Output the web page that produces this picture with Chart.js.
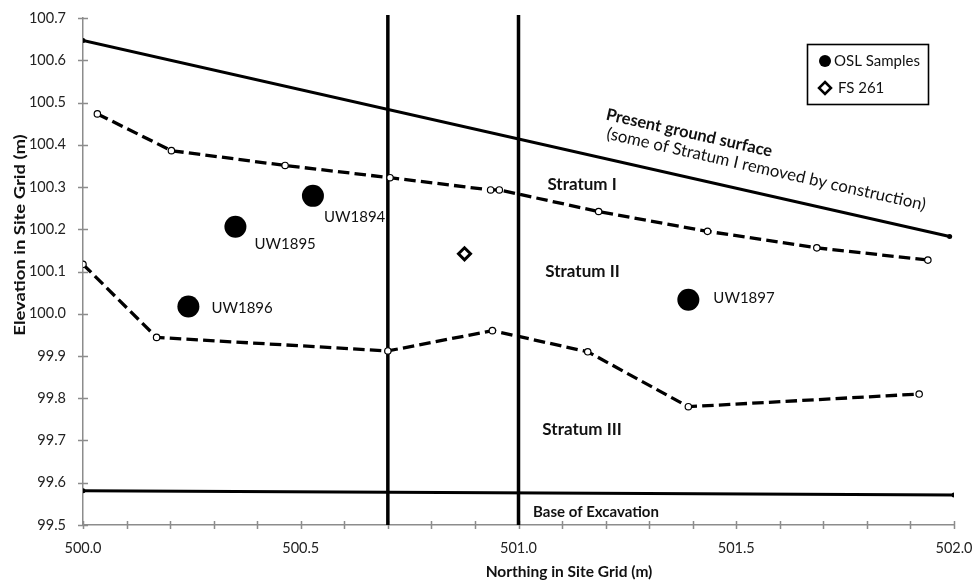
<!DOCTYPE html>
<html>
<head>
<meta charset="utf-8">
<script src="https://cdn.jsdelivr.net/npm/chart.js@4/dist/chart.umd.min.js"></script>
<style>
  html, body { margin: 0; padding: 0; background: #fff; }
  #wrap { width: 975px; height: 580px; }
</style>
</head>
<body>
<div id="wrap"><canvas id="c" width="975" height="580"></canvas></div>
<script>
// Present ground surface (solid line)
const groundX = [500.0, 501.99];
const groundY = [100.647, 100.183];
// Base of excavation (solid line)
const baseX = [500.0, 502.0];
const baseY = [99.581, 99.571];
// Stratum I / Stratum II boundary (dashed)
const boundary12X = [500.033, 500.203, 500.464, 500.705, 500.936, 500.956, 501.184, 501.434, 501.685, 501.94];
const boundary12Y = [100.473, 100.386, 100.351, 100.322, 100.293, 100.293, 100.242, 100.195, 100.156, 100.127];
// Stratum II / Stratum III boundary (dashed)
const boundary23X = [500.0, 500.169, 500.70, 500.94, 501.159, 501.39, 501.92];
const boundary23Y = [100.117, 99.944, 99.912, 99.960, 99.910, 99.780, 99.810];
// OSL samples
const sampleNames = ['UW1894', 'UW1895', 'UW1896', 'UW1897'];
const sampleX = [500.528, 500.35, 500.242, 501.39];
const sampleY = [100.279, 100.206, 100.017, 100.033];
// FS 261
const fsX = [500.876];
const fsY = [100.142];
// Unit walls (vertical lines)
const wallX = [500.7, 501.0];
const wallBottom = 99.5;
const wallTop = 100.707;
// Axis tick labels
const xTickLabels = ['500.0', '500.5', '501.0', '501.5', '502.0'];
const yTickLabels = ['99.5', '99.6', '99.7', '99.8', '99.9', '100.0', '100.1', '100.2', '100.3', '100.4', '100.5', '100.6', '100.7'];

const FONT = 'Lato, "Open Sans", sans-serif';
const AXIS_GREY = '#8c8c8c';
const INK = '#111';

const pts = (xs, ys) => xs.map((x, i) => ({ x: x, y: ys[i] }));

// Text labels placed in data units
const areaLabels = [
  { text: 'Stratum I', x: 501.146, y: 100.307, bold: true, size: 17 },
  { text: 'Stratum II', x: 501.147, y: 100.100, bold: true, size: 17 },
  { text: 'Stratum III', x: 501.146, y: 99.727, bold: true, size: 17 },
  { text: 'Base of Excavation', x: 501.178, y: 99.531, bold: true, size: 15 },
  { text: 'Present ground surface', x: 501.392, y: 100.428, bold: true, size: 16.5, angle: 12.7 },
  { text: '(some of Stratum I removed by construction)', x: 501.569, y: 100.342, bold: false, size: 16.8, angle: 12.7 }
];
// Offset of each sample label from its marker (pixels): left edge, vertical centre
const sampleLabelOffset = [[11, 21], [19, 17], [23, 2], [25, -2]];

const commonLine = { showLine: true, borderColor: '#000', backgroundColor: '#000' };
const dashedStyle = {
  borderWidth: 3.3, borderDash: [11.5, 5.2],
  pointRadius: 3.2, pointBackgroundColor: '#fff', pointBorderColor: '#000', pointBorderWidth: 1.2
};

const datasets = [
  {
    label: 'OSL Samples', data: pts(sampleX, sampleY), showLine: false,
    pointRadius: 11, pointHoverRadius: 11, pointBackgroundColor: '#000', pointBorderColor: '#000', pointBorderWidth: 0
  },
  {
    label: 'FS 261', data: pts(fsX, fsY), showLine: false, pointStyle: 'rectRot',
    pointRadius: 6, pointHoverRadius: 6, pointBackgroundColor: '#fff', pointBorderColor: '#000', pointBorderWidth: 3
  },
  Object.assign({}, commonLine, dashedStyle, { label: 'Stratum I/II', data: pts(boundary12X, boundary12Y) }),
  Object.assign({}, commonLine, dashedStyle, { label: 'Stratum II/III', data: pts(boundary23X, boundary23Y) }),
  Object.assign({}, commonLine, {
    label: 'Present ground surface', data: pts(groundX, groundY), borderWidth: 3,
    pointRadius: 2.5, pointBackgroundColor: '#000', pointBorderWidth: 0
  }),
  Object.assign({}, commonLine, {
    label: 'Base of Excavation', data: pts(baseX, baseY), borderWidth: 3,
    pointRadius: 2.5, pointBackgroundColor: '#000', pointBorderWidth: 0
  })
].concat(wallX.map(x => Object.assign({}, commonLine, {
  label: 'Wall ' + x, data: [{ x: x, y: wallBottom }, { x: x, y: wallTop }],
  borderWidth: 3.5, pointRadius: 0, clip: false
})));

function drawText(ctx, text, x, y, opts) {
  ctx.save();
  ctx.translate(x, y);
  if (opts.angle) ctx.rotate(opts.angle * Math.PI / 180);
  if (opts.sx || opts.sy) ctx.scale(opts.sx || 1, opts.sy || 1);
  ctx.font = (opts.bold ? 'bold ' : '') + opts.size + 'px ' + FONT;
  ctx.fillStyle = opts.color || INK;
  ctx.textAlign = opts.align || 'center';
  ctx.textBaseline = 'middle';
  ctx.fillText(text, 0, 0);
  ctx.restore();
}

// Tick marks crossing both axes
const crossTicks = {
  id: 'crossTicks',
  beforeDatasetsDraw(chart) {
    const ctx = chart.ctx, xs = chart.scales.x, ys = chart.scales.y, a = chart.chartArea;
    ctx.save();
    ctx.strokeStyle = AXIS_GREY;
    ctx.lineWidth = 1.5;
    ctx.beginPath();
    const nx = Math.round((xs.max - xs.min) / 0.1);
    for (let i = 0; i <= nx; i++) {
      const px = Math.round(xs.getPixelForValue(xs.min + i * 0.1)) + 0.5;
      ctx.moveTo(px, a.bottom - 4);
      ctx.lineTo(px, a.bottom + 4);
    }
    yTickLabels.forEach(l => {
      const py = Math.round(ys.getPixelForValue(parseFloat(l))) + 0.5;
      ctx.moveTo(a.left - 5, py);
      ctx.lineTo(a.left + 5, py);
    });
    ctx.stroke();
    ctx.restore();
  }
};

// Annotations, sample names, axis titles and legend
const annotations = {
  id: 'annotations',
  afterDatasetsDraw(chart) {
    const ctx = chart.ctx, xs = chart.scales.x, ys = chart.scales.y, a = chart.chartArea;
    areaLabels.forEach(l => {
      drawText(ctx, l.text, xs.getPixelForValue(l.x), ys.getPixelForValue(l.y),
        { size: l.size, bold: l.bold, angle: l.angle });
    });
    sampleNames.forEach((n, i) => {
      const px = xs.getPixelForValue(sampleX[i]) + sampleLabelOffset[i][0];
      const py = ys.getPixelForValue(sampleY[i]) + sampleLabelOffset[i][1];
      drawText(ctx, n, px, py, { size: 15, align: 'left' });
    });
    // axis titles
    drawText(ctx, 'Northing in Site Grid (m)', a.left + 486, a.bottom + 47, { size: 15.5, bold: true });
    drawText(ctx, 'Elevation in Site Grid (m)', 20, a.top + 217, { size: 15, bold: true, angle: -90, sx: 1.23 });

    // legend
    const lx = a.right - 147, ly = a.top + 26;
    ctx.save();
    ctx.strokeStyle = '#000';
    ctx.lineWidth = 1.6;
    ctx.strokeRect(lx + 0.5, ly + 0.5, 121, 60);
    ctx.fillStyle = '#000';
    ctx.beginPath();
    ctx.arc(lx + 18, ly + 17, 6, 0, Math.PI * 2);
    ctx.fill();
    ctx.beginPath();
    ctx.moveTo(lx + 18, ly + 38);
    ctx.lineTo(lx + 24, ly + 44);
    ctx.lineTo(lx + 18, ly + 50);
    ctx.lineTo(lx + 12, ly + 44);
    ctx.closePath();
    ctx.fillStyle = '#fff';
    ctx.fill();
    ctx.lineWidth = 2.5;
    ctx.stroke();
    ctx.restore();
    drawText(ctx, datasets[0].label, lx + 27, ly + 17, { size: 15, align: 'left' });
    drawText(ctx, datasets[1].label, lx + 31, ly + 44, { size: 15, align: 'left' });
  }
};

new Chart(document.getElementById('c'), {
  type: 'scatter',
  data: { datasets: datasets },
  options: {
    responsive: false,
    animation: false,
    devicePixelRatio: 1,
    events: [],
    layout: { padding: { top: 18, right: 21, left: 0, bottom: 0 } },
    plugins: { legend: { display: false }, tooltip: { enabled: false } },
    scales: {
      x: {
        type: 'linear', min: 500, max: 502,
        afterBuildTicks: s => { s.ticks = xTickLabels.map(l => ({ value: parseFloat(l) })); },
        afterFit: s => { s.height = 55; s.paddingLeft = 0; s.paddingRight = 0; },
        grid: { display: false },
        border: { display: true, color: AXIS_GREY, width: 1.5 },
        ticks: {
          autoSkip: false, maxRotation: 0, padding: 7, color: '#222',
          font: { family: FONT, size: 14.5 },
          callback: (v, i) => xTickLabels[i]
        }
      },
      y: {
        type: 'linear', min: 99.5, max: 100.7,
        afterBuildTicks: s => { s.ticks = yTickLabels.map(l => ({ value: parseFloat(l) })); },
        afterFit: s => { s.width = 83; s.paddingTop = 0; s.paddingBottom = 0; },
        grid: { display: false },
        border: { display: true, color: AXIS_GREY, width: 1.5 },
        ticks: {
          autoSkip: false, padding: 9, color: '#222',
          font: { family: FONT, size: 14.5 },
          callback: (v, i) => yTickLabels[i]
        }
      }
    }
  },
  plugins: [crossTicks, annotations]
});
</script>
</body>
</html>
